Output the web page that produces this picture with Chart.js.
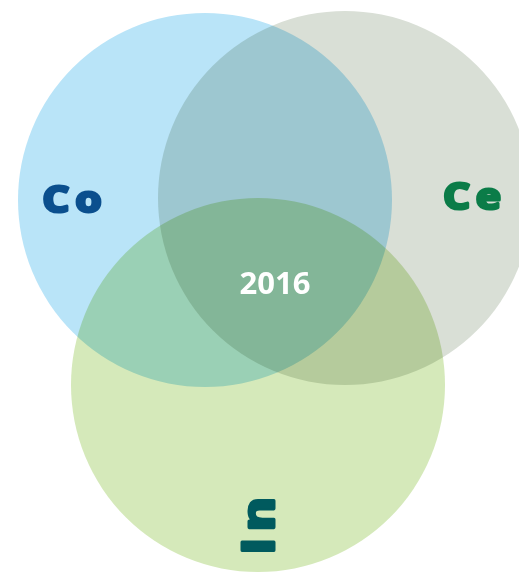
<!DOCTYPE html>
<html>
<head>
<meta charset="utf-8">
<script src="https://cdn.jsdelivr.net/npm/chart.js@4/dist/chart.umd.min.js"></script>
<style>
  html, body { margin: 0; padding: 0; background: #fff; }
  #wrap { width: 519px; height: 572px; }
</style>
</head>
<body>
<div id="wrap"><canvas id="venn"></canvas></div>
<script>
// sets of the venn, centre (x, y) and radius in pixel units of the plot
const setNames = ['Co', 'Ce', 'In'];
const setX = [205, 345, 258];
const setY = [200, 198, 385];
const setR = [187, 187, 187];
const setColors = ['#b9e4f8', '#d9dfd6', '#d5e9ba'];

// labels drawn on top
const labelText = ['Co', 'Ce', 'In', '2016'];
const labelX = [75, 475, 261, 275];
const labelY = [202, 199, 523, 285];
const labelRotation = [0, 0, -90, 0];
const labelSize = [35, 35, 44, 31];
const labelColors = ['#0b4f8e', '#0b7c48', '#005a5e', '#ffffff'];

const multiplyBlend = {
    id: 'multiplyBlend',
    beforeDatasetsDraw(chart) {
        chart.ctx.save();
        chart.ctx.globalCompositeOperation = 'multiply';
    },
    afterDatasetsDraw(chart) {
        chart.ctx.restore();
    }
};

const vennLabels = {
    id: 'vennLabels',
    afterDraw(chart) {
        const ctx = chart.ctx;
        const xs = chart.scales.x, ys = chart.scales.y;
        labelText.forEach(function(t, i) {
            ctx.save();
            ctx.translate(xs.getPixelForValue(labelX[i]), ys.getPixelForValue(labelY[i]));
            ctx.rotate(labelRotation[i] * Math.PI / 180);
            ctx.font = 'bold ' + labelSize[i] + 'px "Open Sans", sans-serif';
            ctx.fillStyle = labelColors[i];
            ctx.textAlign = 'center';
            ctx.textBaseline = 'middle';
            if (i < 3) {
                // set names: heavy, wide lettering
                ctx.scale(1.2, 1);
                ctx.letterSpacing = '5px';
                ctx.strokeStyle = labelColors[i];
                ctx.lineWidth = 3;
                ctx.lineJoin = 'round';
                ctx.strokeText(t, 0, 0);
            }
            ctx.fillText(t, 0, 0);
            ctx.restore();
        });
    }
};

const ctx = document.getElementById('venn').getContext('2d');
new Chart(ctx, {
    type: 'bubble',
    data: {
        datasets: [{
            data: setNames.map(function(n, i) { return { x: setX[i], y: setY[i], r: setR[i] }; }),
            backgroundColor: setColors,
            borderWidth: 0,
            hoverBorderWidth: 0,
            clip: false
        }]
    },
    options: {
        responsive: true,
        maintainAspectRatio: false,
        animation: false,
        events: [],
        layout: { padding: 0, autoPadding: false },
        scales: {
            x: { type: 'linear', min: 0, max: 519, display: false },
            y: { type: 'linear', min: 0, max: 572, reverse: true, display: false }
        },
        plugins: {
            legend: { display: false },
            tooltip: { enabled: false }
        }
    },
    plugins: [multiplyBlend, vennLabels]
});
</script>
</body>
</html>
